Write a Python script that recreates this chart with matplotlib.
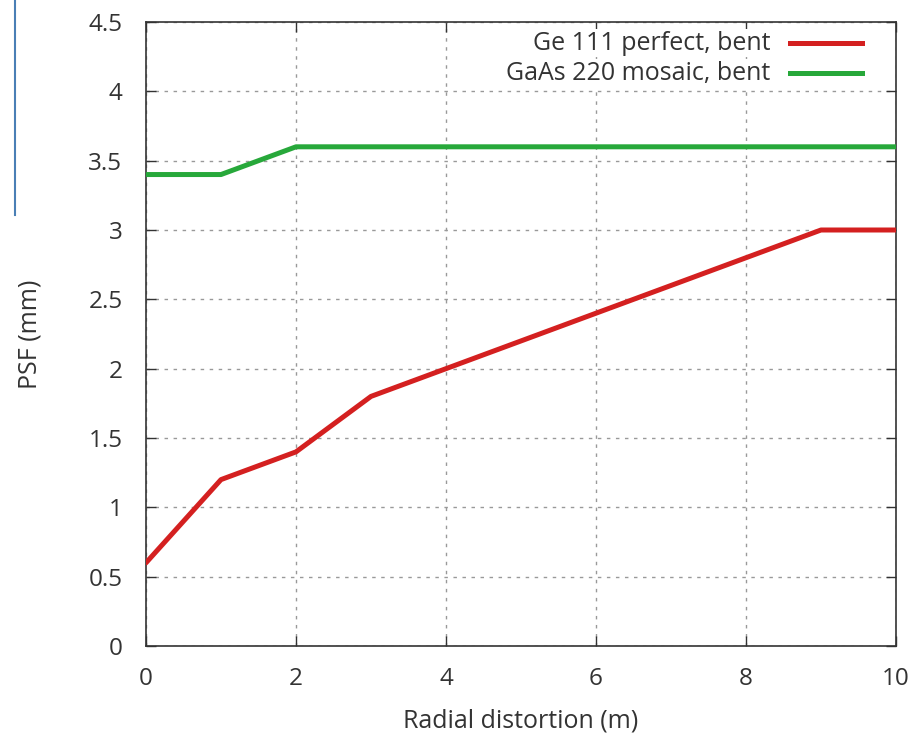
import matplotlib
matplotlib.use('Agg')
import matplotlib.pyplot as plt
from matplotlib.lines import Line2D

# radial distortion (m) vs PSF (mm)
distortion = [0, 1, 2, 3, 4, 5, 6, 7, 8, 9, 10]
psf_ge111 = [0.6, 1.2, 1.4, 1.8, 2.0, 2.2, 2.4, 2.6, 2.8, 3.0, 3.0]
psf_gaas220 = [3.4, 3.4, 3.6, 3.6, 3.6, 3.6, 3.6, 3.6, 3.6, 3.6, 3.6]
series_labels = ['Ge 111 perfect, bent', 'GaAs 220 mosaic, bent']
series_colors = ['#d42020', '#27a83a']
x_ticks = [0, 2, 4, 6, 8, 10]
y_ticks = [0, 0.5, 1, 1.5, 2, 2.5, 3, 3.5, 4, 4.5]
y_tick_labels = ['0', '0.5', '1', '1.5', '2', '2.5', '3', '3.5', '4', '4.5']

plt.rcParams['font.family'] = ['Open Sans', 'DejaVu Sans']
FS = 18
FS_TICK = 17.5
TXT = '#333333'

fig = plt.figure(figsize=(9.21, 7.33), dpi=100)
ax = fig.add_axes([146 / 921, 1 - 646 / 733, 750 / 921, 624 / 733])

for ys, lab, col in zip([psf_ge111, psf_gaas220], series_labels, series_colors):
    ax.plot(distortion, ys, color=col, lw=3.6, label=lab,
            solid_joinstyle='round', solid_capstyle='round', zorder=3)

ax.set_xlim(0, 10)
ax.set_ylim(0, 4.5)
ax.set_xticks(x_ticks)
ax.set_yticks(y_ticks)
ax.set_yticklabels(y_tick_labels)
ax.tick_params(direction='in', top=True, right=True, length=7, width=1,
               labelsize=FS_TICK, colors=TXT)
ax.tick_params(axis='y', pad=17)
ax.tick_params(axis='x', pad=15)
ax.grid(True, color='#999999', linestyle=(0, (2.5, 4)), linewidth=1)
for sp in ax.spines.values():
    sp.set_color(TXT)
    sp.set_linewidth(1.2)

ax.set_xlabel('Radial distortion (m)', fontsize=FS, color=TXT, labelpad=13)
ax.set_ylabel('PSF (mm)', fontsize=FS, color=TXT, labelpad=33)

# gnuplot-style key: right-aligned text, sample line to its right
for i, (lab, col) in enumerate(zip(series_labels, series_colors)):
    yk = 0.966 - i * 0.048
    ax.text(0.832, yk, lab, transform=ax.transAxes, ha='right', va='center',
            fontsize=FS, color=TXT, zorder=6,
            bbox=dict(facecolor='white', edgecolor='none', pad=1))
    ax.add_line(Line2D([0.859, 0.955], [yk, yk], transform=ax.transAxes,
                       color=col, lw=3.6, zorder=6))

# stray blue edge at the left border
fig.add_artist(Line2D([15 / 921, 15 / 921], [1 - 215 / 733, 1.0],
                      color='#4a7fb5', lw=1.5))

fig.savefig('out.png', dpi=100, facecolor='white')
